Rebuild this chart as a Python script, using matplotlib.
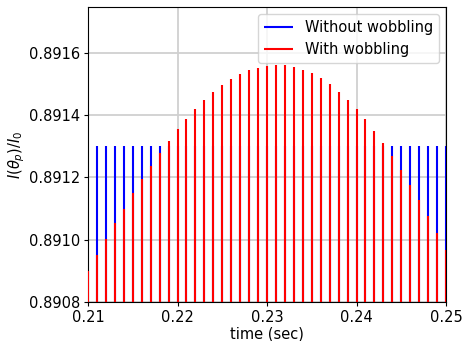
import matplotlib
matplotlib.use("Agg")
import matplotlib.pyplot as plt
import numpy as np

time_ms_without = list(range(211, 251))  # spike times (ms), no wobbling
time_ms_with = list(range(210, 251))     # spike times (ms), with wobbling
without_wobbling = [0.8913] * len(time_ms_without)
with_wobbling = [
    0.89090, 0.890952, 0.891003, 0.891053, 0.891100, 0.891149, 0.891195, 0.891237,
    0.891278, 0.891317, 0.891355, 0.891388, 0.891420, 0.891448, 0.891474, 0.891497,
    0.891516, 0.891532, 0.891545, 0.891554, 0.891560, 0.891562, 0.891561, 0.891556,
    0.891547, 0.891535, 0.891519, 0.891500, 0.891476, 0.891451, 0.891420, 0.891387,
    0.891351, 0.891311, 0.891269, 0.891224, 0.891176, 0.891127, 0.891075, 0.891020,
    0.890965,
]
baseline = 0.8900
xticks = [0.21, 0.22, 0.23, 0.24, 0.25]
yticks = [0.8908, 0.8910, 0.8912, 0.8914, 0.8916]

plt.rcParams['font.family'] = ['DejaVu Sans']
plt.rcParams['font.size'] = 10.5

t_without = np.array(time_ms_without) / 1000.0
t_with = np.array(time_ms_with) / 1000.0

fig = plt.figure(figsize=(4.64, 3.41), dpi=100)
ax = fig.add_axes([0.1897, 0.1152, 0.7715, 0.8652])

ax.vlines(t_without, baseline, without_wobbling, colors='blue', linewidth=1.5,
          label='Without wobbling', zorder=3)
ax.vlines(t_with, baseline, with_wobbling, colors='red', linewidth=1.5,
          label='With wobbling', zorder=4)

ax.set_xlim(0.21, 0.25)
ax.set_ylim(0.8908, 0.89175)
ax.set_xticks(xticks)
ax.set_xticklabels([f"{v:.2f}" for v in xticks])
ax.set_yticks(yticks)
ax.set_yticklabels([f"{v:.4f}" for v in yticks])
ax.tick_params(length=3.2, pad=2.5)
ax.grid(True, color='#d0d0d0', linewidth=1.3, zorder=0)
ax.set_axisbelow(True)
ax.set_xlabel('time (sec)', labelpad=1)
ax.set_ylabel(r'$I(\theta_p)/I_0$', labelpad=1.5)
leg = ax.legend(loc='upper right', framealpha=0.8)
leg.set_zorder(10)

fig.savefig('out.png', dpi=100)
